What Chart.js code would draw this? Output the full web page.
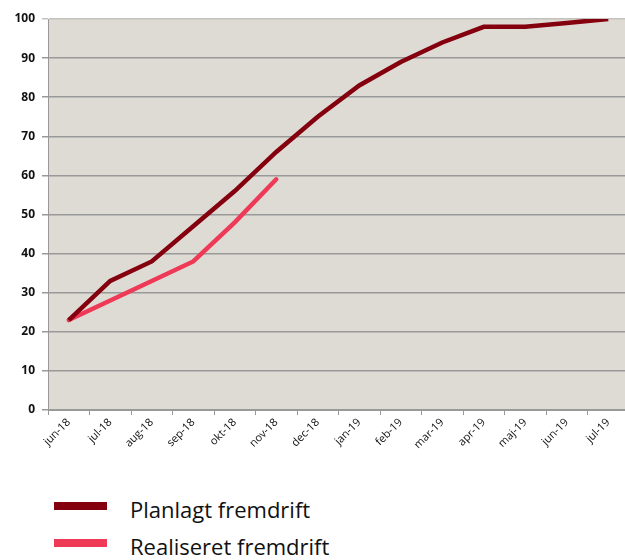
<!DOCTYPE html>
<html>
<head>
<meta charset="utf-8">
<script src="https://cdn.jsdelivr.net/npm/chart.js@4"></script>
<style>
  html, body { margin: 0; padding: 0; background: #fff; overflow: hidden; }
  #wrap { position: relative; width: 630px; height: 475px; }
  #legend { position: absolute; left: 0; top: 480px; width: 625px; font-family: "Open Sans", sans-serif; }
  .item { position: absolute; left: 54px; height: 30px; }
  .swatch { position: absolute; left: 0; width: 53px; height: 8px; }
  .label { position: absolute; left: 76px; top: 4px; font-size: 22px; color: #111; white-space: nowrap; line-height: 30px; }
</style>
</head>
<body>
<div id="wrap"><canvas id="progress-chart"></canvas></div>
<div id="legend"></div>
<script>
// months on the x axis
const months = ['jun-18', 'jul-18', 'aug-18', 'sep-18', 'okt-18', 'nov-18', 'dec-18',
                'jan-19', 'feb-19', 'mar-19', 'apr-19', 'maj-19', 'jun-19', 'jul-19'];
// planned progress (%)
const planned = [23, 33, 38, 47, 56, 66, 75, 83, 89, 94, 98, 98, 99, 100];
// realised progress (%) so far
const realised = [23, 28, 33, 38, 48, 59];
const yMin = 0, yMax = 100, yStep = 10;

const plotBg = {
    id: 'plotBg',
    beforeDraw(chart) {
        const a = chart.chartArea, c = chart.ctx;
        c.save();
        c.fillStyle = '#dedbd5';
        c.fillRect(a.left, a.top, a.right - a.left, a.bottom - a.top);
        c.restore();
    }
};

const ctx = document.getElementById('progress-chart').getContext('2d');
const chart = new Chart(ctx, {
    type: 'line',
    data: {
        labels: months,
        datasets: [{
            label: 'Planlagt fremdrift',
            data: planned,
            borderColor: '#85000f',
            borderWidth: 4.5,
            pointRadius: 0,
            fill: false
        }, {
            label: 'Realiseret fremdrift',
            data: realised,
            borderColor: '#ee3a57',
            borderWidth: 4.5,
            borderCapStyle: 'round',
            pointRadius: 0,
            fill: false
        }]
    },
    options: {
        responsive: true,
        maintainAspectRatio: false,
        animation: false,
        layout: { padding: { top: 19, right: 1, left: 0, bottom: 0 } },
        plugins: { legend: { display: false }, tooltip: { enabled: false } },
        scales: {
            x: {
                offset: true,
                grid: { offset: true, drawOnChartArea: false, drawTicks: true, tickLength: 5, color: '#999' },
                border: { color: '#999', width: 1 },
                ticks: {
                    minRotation: 45, maxRotation: 45, autoSkip: false, padding: 1,
                    color: '#111', font: { family: 'Open Sans', size: 11 }
                },
                afterFit(s) { s.height = 65; }
            },
            y: {
                min: yMin, max: yMax,
                grid: {
                    color: (c) => c.tick && c.tick.value === yMax ? '#c4c2bd' : '#999',
                    lineWidth: 1.5, tickLength: 6
                },
                border: { color: '#999', width: 1 },
                ticks: {
                    stepSize: yStep, padding: 7, color: '#111',
                    font: { family: 'Open Sans', size: 12, weight: 'bold' }
                },
                afterFit(s) { s.width = 48; }
            }
        }
    },
    plugins: [plotBg]
});

// legend below the chart, built from the datasets
const legend = document.getElementById('legend');
chart.data.datasets.forEach((ds, i) => {
    const item = document.createElement('div');
    item.className = 'item';
    item.style.top = (i * 37 + 10) + 'px';
    item.innerHTML = '<div class="swatch" style="top:12px;background:' + ds.borderColor + '"></div>' +
                     '<div class="label">' + ds.label + '</div>';
    legend.appendChild(item);
});
</script>
</body>
</html>
